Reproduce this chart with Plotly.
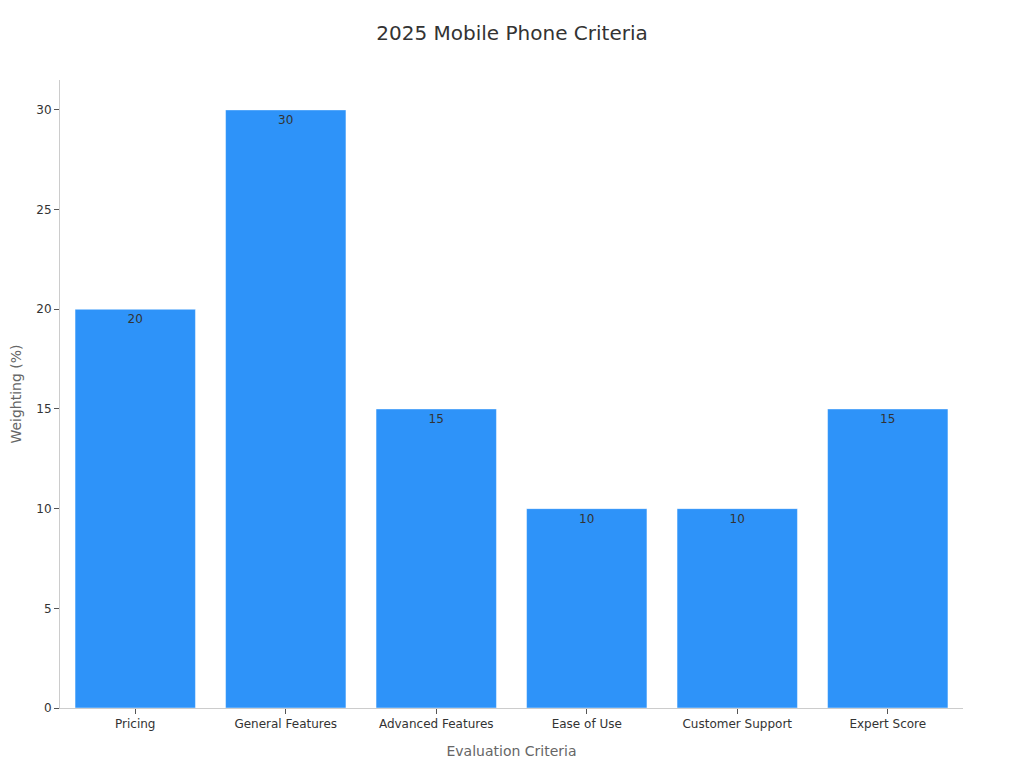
import plotly.graph_objects as go

categories = ["Pricing", "General Features", "Advanced Features", "Ease of Use", "Customer Support", "Expert Score"]
weights = [20, 30, 15, 10, 10, 15]

fig = go.Figure(go.Bar(
    x=categories,
    y=weights,
    text=[str(v) for v in weights],
    textposition="inside",
    insidetextanchor="end",
    textfont=dict(family="DejaVu Sans", size=12, color="#333333"),
    marker=dict(color="#2E93F9", line=dict(color="rgba(255,255,255,0.45)", width=1)),
))

fig.update_layout(
    width=1008, height=752,
    paper_bgcolor="white", plot_bgcolor="white",
    font=dict(family="DejaVu Sans", size=12, color="#333333"),
    title=dict(text="2025 Mobile Phone Criteria", x=0.5, xanchor="center", y=0.9668, yanchor="middle",
               font=dict(size=20, color="#333333")),
    margin=dict(l=52, r=53, t=72, b=52),
    bargap=0.2,
    showlegend=False,
    xaxis=dict(
        title=dict(text="Evaluation Criteria", font=dict(size=14, color="#666666"), standoff=15),
        automargin=False,
        showline=True, linecolor="#cccccc", linewidth=1,
        ticks="outside", ticklen=5, tickcolor="#555555",
        showgrid=False, tickfont=dict(size=12, color="#333333"),
    ),
    yaxis=dict(
        title=dict(text="Weighting (%)", font=dict(size=14, color="#666666"), standoff=16),
        automargin=False,
        range=[0, 31.5], dtick=5,
        showline=True, linecolor="#cccccc", linewidth=1,
        ticks="outside", ticklen=5, tickcolor="#555555",
        showgrid=False, zeroline=False, tickfont=dict(size=12, color="#333333"),
    ),
)

fig.write_html("out.html")
